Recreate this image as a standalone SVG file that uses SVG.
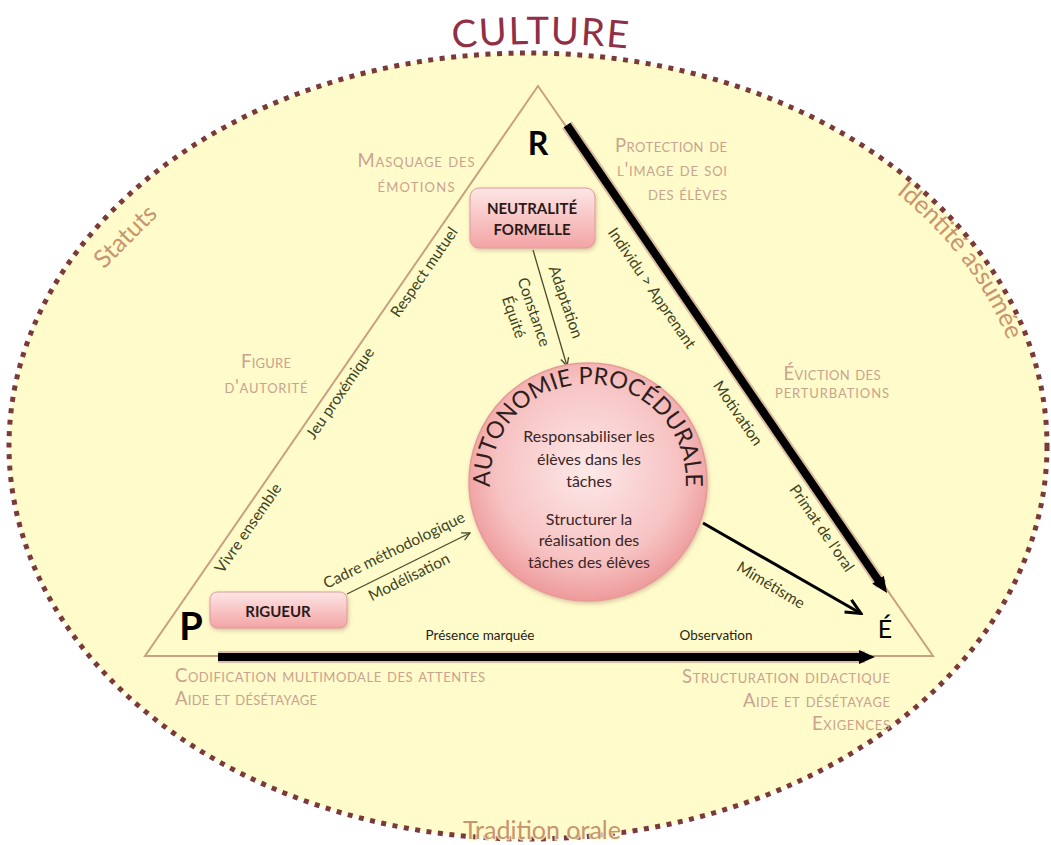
<svg xmlns="http://www.w3.org/2000/svg" width="1051" height="845" viewBox="0 0 1051 845">
<defs>
<style>
text{font-family:Lato,"Open Sans","Liberation Sans",sans-serif;}
.sc{font-size:18.5px;font-variant:small-caps;fill:#c9a38e;}
.edge{font-size:15.5px;fill:#3e4322;}
.dark{font-size:13.5px;fill:#1e1e14;}
.outer{font-size:25px;fill:#c8956e;}
.inner{font-size:16px;fill:#3a2626;text-anchor:middle;}
.boxt{font-size:15px;font-weight:700;fill:#2a1a1a;text-anchor:middle;}
.big{font-weight:700;fill:#000;text-anchor:middle;}
.glow{stroke:#c48a80;stroke-opacity:0.55;stroke-width:12;fill:none;}
.thick{stroke:#000;stroke-width:8;fill:none;}
.thin{stroke:#4b4b2b;stroke-width:1.3;fill:none;}
</style>
<linearGradient id="boxGrad" x1="0" y1="0" x2="0" y2="1">
<stop offset="0" stop-color="#fde6e6"/><stop offset="1" stop-color="#f3a4a4"/>
</linearGradient>
<radialGradient id="circGrad" cx="50%" cy="45%" r="55%">
<stop offset="0" stop-color="#fde9e9"/><stop offset="0.7" stop-color="#f7c2c2"/><stop offset="1" stop-color="#ee9a9a"/>
</radialGradient>
<filter id="shadow" x="-20%" y="-20%" width="140%" height="140%">
<feDropShadow dx="1" dy="2" stdDeviation="2" flood-color="#a07060" flood-opacity="0.4"/>
</filter>
<marker id="headThick" viewBox="0 0 16 16" refX="6" refY="8" markerWidth="16" markerHeight="16" markerUnits="userSpaceOnUse" orient="auto">
<path d="M0,1 L16,8 L0,15 Z" fill="#000"/>
</marker>
<marker id="headOpen" viewBox="0 0 20 20" refX="18" refY="10" markerWidth="20" markerHeight="20" markerUnits="userSpaceOnUse" orient="auto">
<path d="M3,3 L18,10 L3,17" fill="none" stroke="#000" stroke-width="3"/>
</marker>
<marker id="headThin" viewBox="0 0 10 10" refX="9" refY="5" markerWidth="10" markerHeight="10" markerUnits="userSpaceOnUse" orient="auto">
<path d="M1,1 L9,5 L1,9" fill="none" stroke="#4b4b2b" stroke-width="1.3"/>
</marker>
<path id="arcCulture" d="M430,51 Q540,37 650,51"/>
<path id="arcIdent" d="M794,129.5 A500,374 0 0 1 1026.8,419.9"/>
<path id="arcAuto" d="M491.5,499 A98,98 0 1 1 684.5,499"/>
</defs>

<rect width="1051" height="845" fill="#ffffff"/>

<g id="culture">
<ellipse cx="528" cy="446" rx="519" ry="393" fill="#fffbcb" stroke="#7b3a3a" stroke-width="5" stroke-dasharray="5 6.5"/>
<text font-size="38" fill="#902f45" text-anchor="middle"><textPath href="#arcCulture" startOffset="50%" textLength="175">CULTURE</textPath></text>
<text class="outer" transform="translate(125,236) rotate(-45)" text-anchor="middle" dy="0.35em">Statuts</text>
<text class="outer" font-size="26" text-anchor="middle"><textPath href="#arcIdent" startOffset="55%">Identité assumée</textPath></text>
<text class="outer" x="542" y="839" font-size="27" text-anchor="middle" stroke="#fffbcb" stroke-width="3" stroke-opacity="0.8" paint-order="stroke">Tradition orale</text>
</g>

<g id="triangle">
<path d="M538,86 L933,656 L145,656 Z" fill="#fffbcb" stroke="#c9a080" stroke-width="2"/>
</g>

<g id="outside-labels">
<text class="sc" text-anchor="middle" x="416" y="167" textLength="117">Masquage des</text>
<text class="sc" text-anchor="middle" x="416" y="192" textLength="77">émotions</text>
<text class="sc" text-anchor="end" x="727" y="152" textLength="112">Protection de</text>
<text class="sc" text-anchor="end" x="727" y="176" textLength="110">l'image de soi</text>
<text class="sc" text-anchor="end" x="727" y="200" textLength="79">des élèves</text>
<text class="sc" text-anchor="middle" x="266" y="368" textLength="50">Figure</text>
<text class="sc" text-anchor="middle" x="266" y="393" textLength="83">d'autorité</text>
<text class="sc" text-anchor="middle" x="832" y="380" textLength="97">Éviction des</text>
<text class="sc" text-anchor="middle" x="832" y="398" textLength="114">perturbations</text>
<text class="sc" x="175" y="682" textLength="310">Codification multimodale des attentes</text>
<text class="sc" x="175" y="705" textLength="142">Aide et désétayage</text>
<text class="sc" text-anchor="end" x="890" y="683" textLength="208">Structuration didactique</text>
<text class="sc" text-anchor="end" x="890" y="707" textLength="147">Aide et désétayage</text>
<text class="sc" text-anchor="end" x="890" y="730" textLength="78">Exigences</text>
</g>

<g id="connectors">
<line class="glow" x1="567" y1="125" x2="881.4" y2="584.7"/>
<line class="thick" x1="567" y1="125" x2="881.4" y2="584.7" marker-end="url(#headThick)"/>
<line class="glow" x1="218" y1="657" x2="865" y2="657"/>
<line class="thick" x1="218" y1="657" x2="865" y2="657" marker-end="url(#headThick)"/>
<line x1="703" y1="523" x2="861" y2="613.5" stroke="#000" stroke-width="3" marker-end="url(#headOpen)"/>
<line class="thin" x1="533" y1="250" x2="567" y2="366" marker-end="url(#headThin)"/>
<line class="thin" x1="347" y1="594" x2="470" y2="533" marker-end="url(#headThin)"/>
</g>

<g id="edge-labels">
<text class="edge" transform="translate(424,272) rotate(-55.4)" text-anchor="middle" dy="0.35em">Respect mutuel</text>
<text class="edge" transform="translate(340,393) rotate(-55.4)" text-anchor="middle" dy="0.35em">Jeu proxémique</text>
<text class="edge" transform="translate(248,528) rotate(-55.4)" text-anchor="middle" dy="0.35em">Vivre ensemble</text>
<text class="edge" transform="translate(652,288) rotate(55.6)" text-anchor="middle" dy="0.35em">Individu &gt; Apprenant</text>
<text class="edge" transform="translate(738,413) rotate(55.6)" text-anchor="middle" dy="0.35em">Motivation</text>
<text class="edge" transform="translate(822,528) rotate(55.6)" text-anchor="middle" dy="0.35em">Primat de l'oral</text>
<text class="edge" transform="translate(566,302) rotate(71)" text-anchor="middle" dy="0.35em">Adaptation</text>
<text class="edge" transform="translate(534,312) rotate(71)" text-anchor="middle" dy="0.35em">Constance</text>
<text class="edge" transform="translate(514,317) rotate(71)" text-anchor="middle" dy="0.35em">Équité</text>
<text class="edge" transform="translate(394,550) rotate(-26)" text-anchor="middle" dy="0.35em">Cadre méthodologique</text>
<text class="edge" transform="translate(409,577) rotate(-26.5)" text-anchor="middle" dy="0.35em">Modélisation</text>
<text class="edge" transform="translate(771,585) rotate(31)" text-anchor="middle" dy="0.35em">Mimétisme</text>
<text class="dark" x="480" y="640" text-anchor="middle">Présence marquée</text>
<text class="dark" x="716" y="640" text-anchor="middle">Observation</text>
</g>

<g id="node-R"><text class="big" x="538" y="155" font-size="32">R</text></g>
<g id="node-P"><text class="big" x="191" y="640" font-size="38">P</text></g>
<g id="node-E"><text x="885" y="638" font-size="25" fill="#000" text-anchor="middle">É</text></g>

<g id="node-neutralite">
<rect x="470" y="188" width="125" height="60" rx="9" fill="url(#boxGrad)" stroke="#dc9c9c" stroke-width="1" filter="url(#shadow)"/>
<text class="boxt" x="532" y="214">NEUTRALITÉ</text>
<text class="boxt" x="532" y="235">FORMELLE</text>
</g>

<g id="node-rigueur">
<rect x="210" y="592" width="137" height="36" rx="7" fill="url(#boxGrad)" stroke="#dc9c9c" stroke-width="1" filter="url(#shadow)"/>
<text class="boxt" x="278" y="617" font-size="14">RIGUEUR</text>
</g>

<g id="node-autonomie">
<circle cx="588" cy="482" r="119" fill="url(#circGrad)" stroke="#e69a9a" stroke-width="1.5" filter="url(#shadow)"/>
<text font-size="23.5" fill="#2e1e1e" text-anchor="middle"><textPath href="#arcAuto" startOffset="50%">AUTONOMIE PROCÉDURALE</textPath></text>
<text class="inner" x="589" y="442">Responsabiliser les</text>
<text class="inner" x="589" y="465">élèves dans les</text>
<text class="inner" x="589" y="487">tâches</text>
<text class="inner" x="589" y="525">Structurer la</text>
<text class="inner" x="589" y="546">réalisation des</text>
<text class="inner" x="589" y="568">tâches des élèves</text>
</g>
</svg>
